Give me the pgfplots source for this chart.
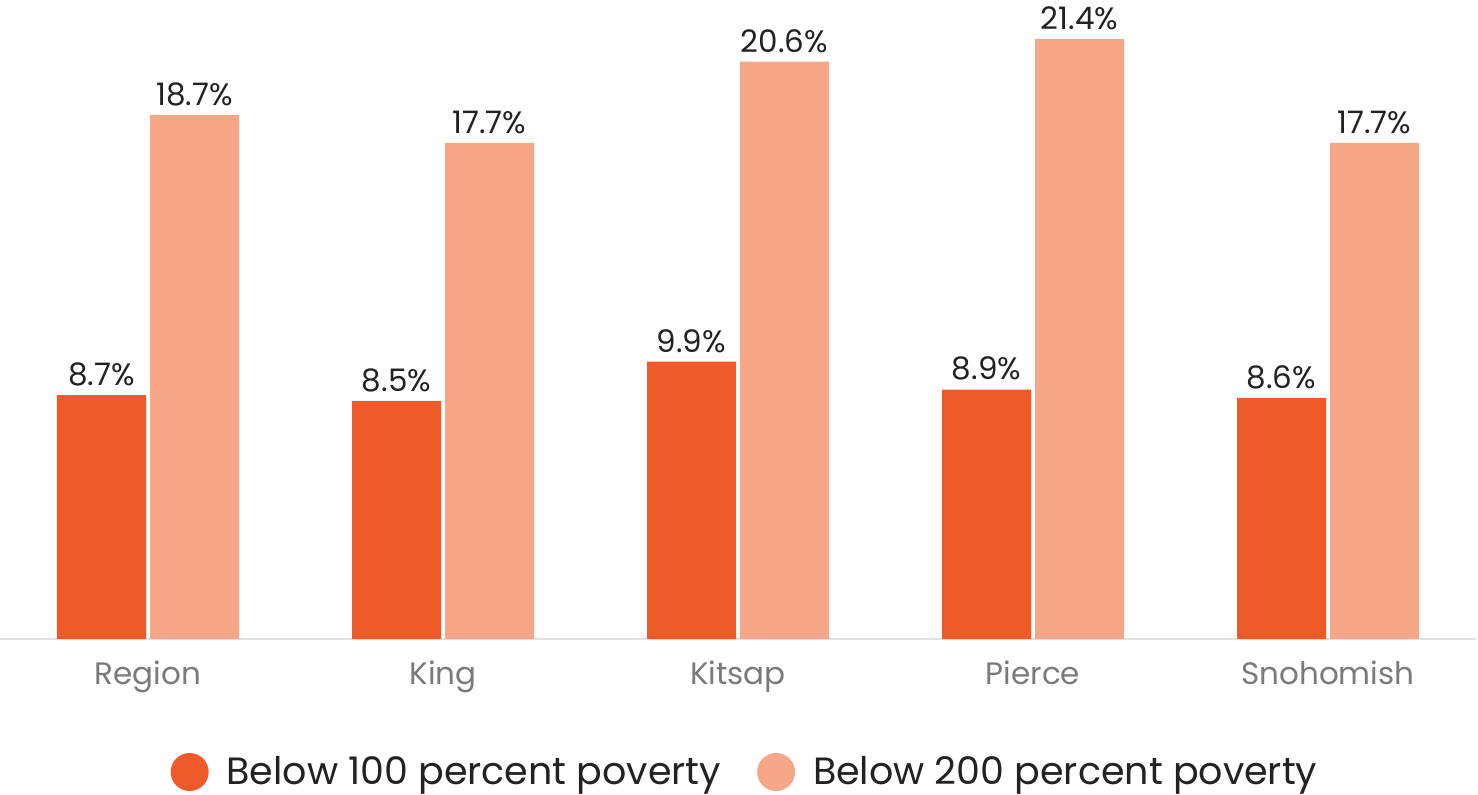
\documentclass[border=0pt]{standalone}
\usepackage{fontspec}
\setmainfont{Poppins}
\usepackage{pgfplots}
\pgfplotsset{compat=1.18}
\definecolor{darkorg}{HTML}{F05A28}
\definecolor{lightorg}{HTML}{F7A688}
\definecolor{txtdark}{HTML}{222222}
\definecolor{txtgray}{HTML}{7A7A7A}
\definecolor{baseln}{HTML}{E2E2E2}
\begin{document}
\begin{tikzpicture}
\begin{axis}[
  name=main,
  scale only axis,
  width=737.5pt, height=319.5pt,
  ybar=2pt, bar width=44.5pt,
  xmin=-0.5, xmax=4.5, ymin=0, ymax=22.8,
  enlargelimits=false,
  axis y line=none,
  axis x line*=bottom,
  x axis line style={draw=baseln, line width=0.8pt, -},
  xtick=data,
  xticklabels={Region,King,Kitsap,Pierce,Snohomish},
  major tick length=0pt,
  /pgf/number format/assume math mode=true,
  xticklabel style={font=\fontsize{15.5}{18}\selectfont, text=txtgray, yshift=-7.5pt},
  nodes near coords={\pgfmathprintnumber[fixed,precision=1,fixed zerofill]{\pgfplotspointmeta}\%},
  nodes near coords style={font=\fontsize{15.5}{18}\selectfont, text=txtdark, yshift=1pt},
  legend style={at={(0.5,0)}, anchor=center, yshift=-66.5pt, xshift=4pt, draw=none, fill=none,
    font=\fontsize{19}{22}\selectfont, text=txtdark,
    legend columns=2,
    /tikz/every odd column/.append style={column sep=7pt},
    /tikz/every even column/.append style={column sep=16pt}},
  legend image code/.code={\fill[#1] (9.5pt,0pt) circle (9.5pt);},
]
\addplot[fill=darkorg, draw=none] coordinates {(0,8.7) (1,8.5) (2,9.9) (3,8.9) (4,8.6)};
\addlegendentry{Below 100 percent poverty}
\addplot[fill=lightorg, draw=none] coordinates {(0,18.7) (1,17.7) (2,20.6) (3,21.4) (4,17.7)};
\addlegendentry{Below 200 percent poverty}
\end{axis}
\pgfresetboundingbox
\path[use as bounding box] (-0.25pt,-78pt) rectangle (738.75pt,319.5pt);
\end{tikzpicture}
\end{document}
